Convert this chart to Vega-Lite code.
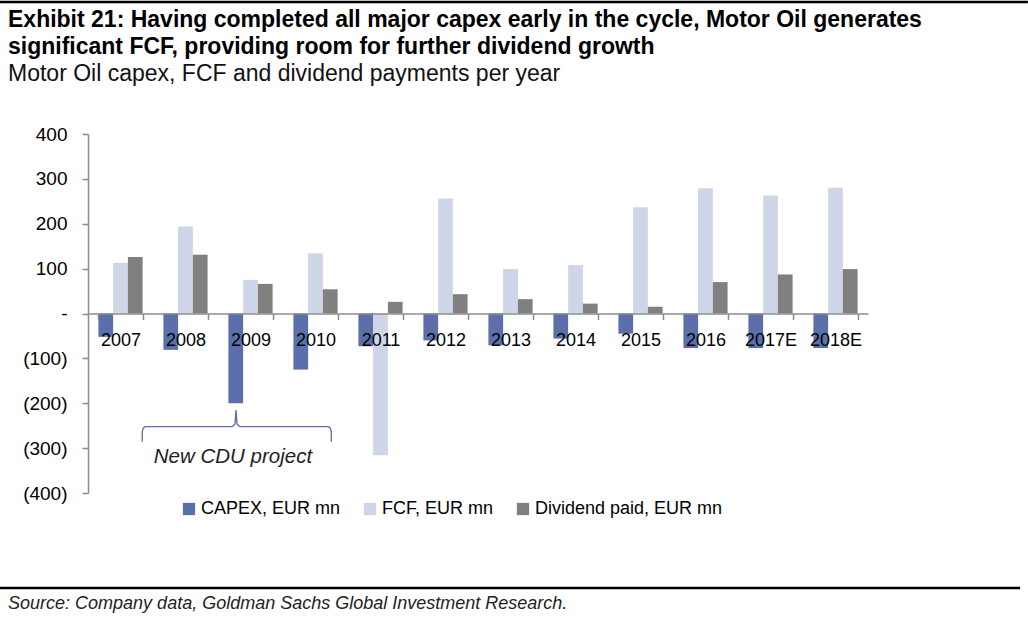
{
  "$schema": "https://vega.github.io/schema/vega-lite/v6.json",
  "width": 780,
  "height": 359,
  "autosize": {"type": "none"},
  "padding": {"left": 88, "top": 134, "right": 160, "bottom": 125},
  "background": "white",
  "title": {
    "text": ["Exhibit 21: Having completed all major capex early in the cycle, Motor Oil generates", "significant FCF, providing room for further dividend growth"],
    "subtitle": "Motor Oil capex, FCF and dividend payments per year",
    "anchor": "start",
    "frame": "group",
    "dx": -80,
    "offset": -85,
    "font": "Liberation Sans",
    "fontSize": 23,
    "fontWeight": "bold",
    "color": "#000000",
    "lineHeight": 27,
    "subtitleFont": "Liberation Sans",
    "subtitleFontSize": 23,
    "subtitleColor": "#111111",
    "subtitlePadding": 4
  },
  "datasets": {
    "bars": [
      {"year": "2007", "series": "CAPEX, EUR mn", "value": -52},
      {"year": "2007", "series": "FCF, EUR mn", "value": 113},
      {"year": "2007", "series": "Dividend paid, EUR mn", "value": 126},
      {"year": "2008", "series": "CAPEX, EUR mn", "value": -81},
      {"year": "2008", "series": "FCF, EUR mn", "value": 194},
      {"year": "2008", "series": "Dividend paid, EUR mn", "value": 131},
      {"year": "2009", "series": "CAPEX, EUR mn", "value": -200},
      {"year": "2009", "series": "FCF, EUR mn", "value": 75},
      {"year": "2009", "series": "Dividend paid, EUR mn", "value": 66},
      {"year": "2010", "series": "CAPEX, EUR mn", "value": -125},
      {"year": "2010", "series": "FCF, EUR mn", "value": 134},
      {"year": "2010", "series": "Dividend paid, EUR mn", "value": 54},
      {"year": "2011", "series": "CAPEX, EUR mn", "value": -73},
      {"year": "2011", "series": "FCF, EUR mn", "value": -316},
      {"year": "2011", "series": "Dividend paid, EUR mn", "value": 26},
      {"year": "2012", "series": "CAPEX, EUR mn", "value": -60},
      {"year": "2012", "series": "FCF, EUR mn", "value": 256},
      {"year": "2012", "series": "Dividend paid, EUR mn", "value": 43},
      {"year": "2013", "series": "CAPEX, EUR mn", "value": -71},
      {"year": "2013", "series": "FCF, EUR mn", "value": 99},
      {"year": "2013", "series": "Dividend paid, EUR mn", "value": 32},
      {"year": "2014", "series": "CAPEX, EUR mn", "value": -56},
      {"year": "2014", "series": "FCF, EUR mn", "value": 108},
      {"year": "2014", "series": "Dividend paid, EUR mn", "value": 22},
      {"year": "2015", "series": "CAPEX, EUR mn", "value": -45},
      {"year": "2015", "series": "FCF, EUR mn", "value": 237},
      {"year": "2015", "series": "Dividend paid, EUR mn", "value": 15},
      {"year": "2016", "series": "CAPEX, EUR mn", "value": -77},
      {"year": "2016", "series": "FCF, EUR mn", "value": 279},
      {"year": "2016", "series": "Dividend paid, EUR mn", "value": 70},
      {"year": "2017E", "series": "CAPEX, EUR mn", "value": -77},
      {"year": "2017E", "series": "FCF, EUR mn", "value": 263},
      {"year": "2017E", "series": "Dividend paid, EUR mn", "value": 87},
      {"year": "2018E", "series": "CAPEX, EUR mn", "value": -77},
      {"year": "2018E", "series": "FCF, EUR mn", "value": 280},
      {"year": "2018E", "series": "Dividend paid, EUR mn", "value": 99}
    ],
    "brace": [
      {"o": 1, "bx": 0.835, "by": -286},
      {"o": 2, "bx": 0.835, "by": -263},
      {"o": 3, "bx": 0.85, "by": -255.5},
      {"o": 4, "bx": 0.88, "by": -252.3},
      {"o": 5, "bx": 2.22, "by": -252.3},
      {"o": 6, "bx": 2.262, "by": -246},
      {"o": 7, "bx": 2.277, "by": -215},
      {"o": 8, "bx": 2.292, "by": -246},
      {"o": 9, "bx": 2.334, "by": -252.3},
      {"o": 10, "bx": 3.70, "by": -252.3},
      {"o": 11, "bx": 3.728, "by": -255.5},
      {"o": 12, "bx": 3.743, "by": -263},
      {"o": 13, "bx": 3.743, "by": -286}
    ],
    "note": [{"tx": 2.23, "ty": -333, "label": "New CDU project"}],
    "source": [{"tx": -1.23, "ty": -647, "label": "Source: Company data, Goldman Sachs Global Investment Research."}],
    "lines": [
      {"x1": -1.354, "x2": 14.46, "ly": 694},
      {"x1": -1.354, "x2": 14.34, "ly": -611.7}
    ]
  },
  "layer": [
    {
      "data": {"name": "bars"},
      "mark": {"type": "bar"},
      "encoding": {
        "x": {
          "field": "year",
          "type": "nominal",
          "sort": null,
          "scale": {"paddingInner": 0.32, "paddingOuter": 0.16},
          "axis": {
            "title": null,
            "orient": "bottom",
            "offset": -179.5,
            "labelAngle": 0,
            "tickBand": "extent",
            "domainColor": "#8c8c8c",
            "domainWidth": 1.5,
            "tickColor": "#8c8c8c",
            "tickWidth": 1.5,
            "tickSize": 6,
            "labelPadding": 12,
            "labelFont": "Liberation Sans",
            "labelFontSize": 18,
            "labelColor": "#000000",
            "zindex": 1
          }
        },
        "xOffset": {
          "field": "series",
          "sort": ["CAPEX, EUR mn", "FCF, EUR mn", "Dividend paid, EUR mn"]
        },
        "y": {
          "field": "value",
          "type": "quantitative",
          "scale": {"domain": [-400, 400], "nice": false},
          "axis": {
            "title": null,
            "values": [-400, -300, -200, -100, 0, 100, 200, 300, 400],
            "labelExpr": "datum.value == 0 ? '-' : (datum.value < 0 ? '(' + format(-datum.value, 'd') + ')' : format(datum.value, 'd'))",
            "grid": false,
            "domainColor": "#8c8c8c",
            "domainWidth": 1.5,
            "tickColor": "#8c8c8c",
            "tickWidth": 1.5,
            "tickSize": 6,
            "labelPadding": 15,
            "labelFont": "Liberation Sans",
            "labelFontSize": 19,
            "labelColor": "#000000"
          }
        },
        "color": {
          "field": "series",
          "type": "nominal",
          "sort": ["CAPEX, EUR mn", "FCF, EUR mn", "Dividend paid, EUR mn"],
          "scale": {
            "domain": ["CAPEX, EUR mn", "FCF, EUR mn", "Dividend paid, EUR mn"],
            "range": ["#5b70aa", "#cdd5e6", "#808080"]
          },
          "legend": {
            "title": null,
            "orient": "none",
            "legendX": 92,
            "legendY": 366,
            "direction": "horizontal",
            "symbolType": "square",
            "symbolSize": 150,
            "symbolStrokeWidth": 0,
            "labelFont": "Liberation Sans",
            "labelFontSize": 18,
            "labelColor": "#000000",
            "labelOffset": 3,
            "labelLimit": 0,
            "columnPadding": 20
          }
        }
      }
    },
    {
      "data": {"name": "brace"},
      "mark": {"type": "line", "color": "#5b6fa0", "strokeWidth": 1.3, "clip": false},
      "encoding": {
        "x": {"field": "bx", "type": "quantitative", "scale": {"domain": [0, 12], "nice": false, "zero": false}, "axis": null},
        "y": {"field": "by", "type": "quantitative"},
        "order": {"field": "o", "type": "quantitative"}
      }
    },
    {
      "data": {"name": "note"},
      "mark": {"type": "text", "font": "Liberation Sans", "fontSize": 20.5, "fontStyle": "italic", "color": "#222222", "align": "center", "baseline": "alphabetic"},
      "encoding": {
        "x": {"field": "tx", "type": "quantitative", "scale": {"domain": [0, 12], "nice": false, "zero": false}, "axis": null},
        "y": {"field": "ty", "type": "quantitative"},
        "text": {"field": "label"}
      }
    },
    {
      "data": {"name": "source"},
      "mark": {"type": "text", "font": "Liberation Sans", "fontSize": 18, "fontStyle": "italic", "color": "#222222", "align": "left", "baseline": "middle"},
      "encoding": {
        "x": {"field": "tx", "type": "quantitative", "scale": {"domain": [0, 12], "nice": false, "zero": false}, "axis": null},
        "y": {"field": "ty", "type": "quantitative"},
        "text": {"field": "label"}
      }
    },
    {
      "data": {"name": "lines"},
      "mark": {"type": "rule", "color": "#000000", "strokeWidth": 2.5, "clip": false},
      "encoding": {
        "x": {"field": "x1", "type": "quantitative", "scale": {"domain": [0, 12], "nice": false, "zero": false}, "axis": null},
        "x2": {"field": "x2"},
        "y": {"field": "ly", "type": "quantitative"}
      }
    }
  ],
  "resolve": {"scale": {"x": "independent"}},
  "config": {"view": {"stroke": null}}
}
